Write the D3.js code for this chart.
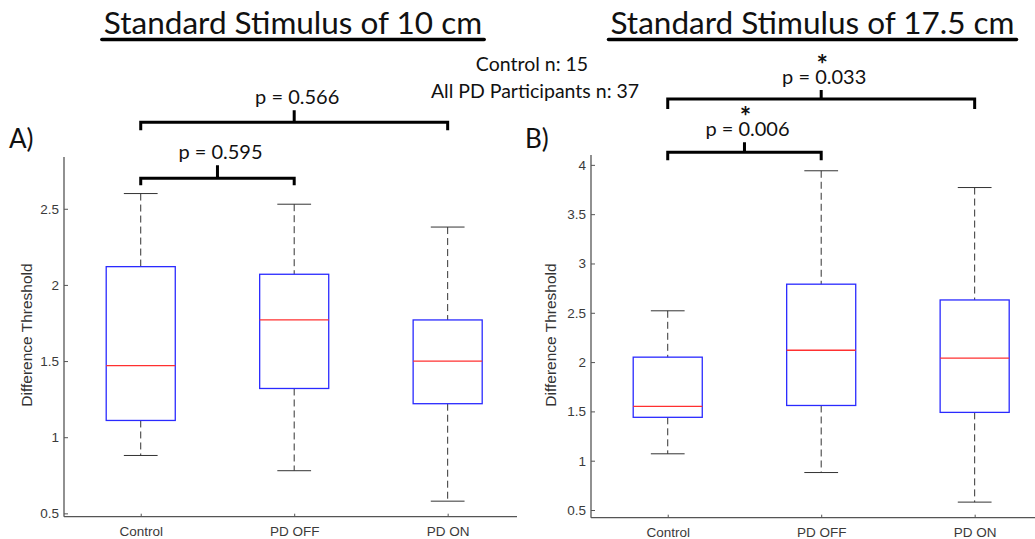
<!DOCTYPE html>
<html>
<head>
<meta charset="utf-8">
<script src="https://cdn.jsdelivr.net/npm/d3@7"></script>
<style>
  body { margin: 0; background: #fff; }
  svg { display: block; }
  .tick text { font-family: "Liberation Sans", Arial, sans-serif; font-size: 13.5px; fill: #3a3a3a; }
  .note { font-family: Lato, "Open Sans", sans-serif; fill: #111; }
</style>
</head>
<body>
<svg id="chart" width="1035" height="539"></svg>
<script>
// categories shared by both panels
const categories = ["Control", "PD OFF", "PD ON"];

// Standard stimulus of 10 cm (panel A)
const lowA    = [0.88, 0.78, 0.58];
const q1A     = [1.11, 1.32, 1.22];
const medianA = [1.47, 1.77, 1.50];
const q3A     = [2.12, 2.07, 1.77];
const highA   = [2.60, 2.53, 2.38];
const ticksA  = [0.5, 1, 1.5, 2, 2.5];

// Standard stimulus of 17.5 cm (panel B)
const lowB    = [1.07, 0.88, 0.58];
const q1B     = [1.44, 1.56, 1.49];
const medianB = [1.55, 2.12, 2.04];
const q3B     = [2.05, 2.79, 2.63];
const highB   = [2.52, 3.94, 3.77];
const ticksB  = [0.5, 1, 1.5, 2, 2.5, 3, 3.5, 4];

// pairwise comparisons
const compA = [
  {from: "Control", to: "PD ON",  p: "p = 0.566", star: false},
  {from: "Control", to: "PD OFF", p: "p = 0.595", star: false}
];
const compB = [
  {from: "Control", to: "PD ON",  p: "p = 0.033", star: true},
  {from: "Control", to: "PD OFF", p: "p = 0.006", star: true}
];

const svg = d3.select("#chart");

function buildRows(low, q1, med, q3, high) {
  return categories.map((c, i) => ({cat: c, low: low[i], q1: q1[i], med: med[i], q3: q3[i], high: high[i]}));
}

function drawPanel(opt) {
  const x = d3.scalePoint().domain(categories).range(opt.xRange).padding(0.5);
  const y = d3.scaleLinear().domain(opt.yDomain).range(opt.yRange);
  const step = x.step();
  const g = svg.append("g");
  const rows = buildRows(...opt.data);

  // y axis
  const yAxis = g.append("g")
    .attr("transform", `translate(${opt.xRange[0]},0)`)
    .call(d3.axisRight(y).tickValues(opt.ticks).tickSize(4).tickSizeOuter(0).tickFormat(d3.format("")));
  yAxis.select(".domain").remove();
  yAxis.selectAll(".tick line").attr("stroke", "#555");
  yAxis.selectAll(".tick text").attr("x", -5).attr("text-anchor", "end");
  g.append("line")
    .attr("x1", opt.xRange[0]).attr("x2", opt.xRange[0])
    .attr("y1", opt.yRange[0]).attr("y2", opt.yRange[1])
    .attr("stroke", "#555").attr("stroke-width", 1.3);

  // x axis
  const xAxis = g.append("g")
    .attr("transform", `translate(0,${opt.yRange[0]})`)
    .call(d3.axisTop(x).tickSize(3).tickSizeOuter(0));
  xAxis.select(".domain").remove();
  xAxis.selectAll(".tick line").attr("stroke", "#555");
  xAxis.selectAll(".tick text").attr("y", 19.5).attr("dy", "0");
  g.append("line")
    .attr("x1", opt.xRange[0]).attr("x2", opt.xEnd)
    .attr("y1", opt.yRange[0]).attr("y2", opt.yRange[0])
    .attr("stroke", "#555").attr("stroke-width", 1.3);

  // y label
  g.append("text")
    .attr("transform", `translate(${opt.labelX},335) rotate(-90)`)
    .attr("text-anchor", "middle")
    .attr("font-family", "Liberation Sans, Arial, sans-serif")
    .attr("font-size", 15.5)
    .attr("fill", "#333")
    .text("Difference Threshold");

  const boxes = g.selectAll(".box").data(rows).enter().append("g");
  const bw = step * 0.225, cw = step * 0.11;

  // whiskers
  boxes.append("line")
    .attr("x1", d => x(d.cat)).attr("x2", d => x(d.cat))
    .attr("y1", d => y(d.high)).attr("y2", d => y(d.q3))
    .attr("stroke", "#333").attr("stroke-dasharray", "7,4");
  boxes.append("line")
    .attr("x1", d => x(d.cat)).attr("x2", d => x(d.cat))
    .attr("y1", d => y(d.q1)).attr("y2", d => y(d.low))
    .attr("stroke", "#333").attr("stroke-dasharray", "7,4");
  boxes.append("line")
    .attr("x1", d => x(d.cat) - cw).attr("x2", d => x(d.cat) + cw)
    .attr("y1", d => y(d.high)).attr("y2", d => y(d.high))
    .attr("stroke", "#333");
  boxes.append("line")
    .attr("x1", d => x(d.cat) - cw).attr("x2", d => x(d.cat) + cw)
    .attr("y1", d => y(d.low)).attr("y2", d => y(d.low))
    .attr("stroke", "#333");

  // box and median
  boxes.append("rect")
    .attr("x", d => x(d.cat) - bw).attr("width", bw * 2)
    .attr("y", d => y(d.q3)).attr("height", d => y(d.q1) - y(d.q3))
    .attr("fill", "none").attr("stroke", "#2a2aff").attr("stroke-width", 1.3);
  boxes.append("line")
    .attr("x1", d => x(d.cat) - bw).attr("x2", d => x(d.cat) + bw)
    .attr("y1", d => y(d.med)).attr("y2", d => y(d.med))
    .attr("stroke", "#ff3030").attr("stroke-width", 1.3);

  // comparison brackets
  opt.comps.forEach((c, i) => {
    const b = opt.brackets[i];
    const x1 = x(c.from), x2 = x(c.to), xm = (x1 + x2) / 2;
    g.append("path")
      .attr("d", `M${x1},${b.y + b.drop}V${b.y}H${x2}V${b.y + b.drop}M${xm},${b.y}V${b.y - b.tick}`)
      .attr("fill", "none").attr("stroke", "#000").attr("stroke-width", 3);
    g.append("text").attr("class", "note")
      .attr("x", xm + 3).attr("y", b.y - b.tick - 6)
      .attr("text-anchor", "middle").attr("font-size", 20)
      .text(c.p);
    if (c.star) {
      g.append("text").attr("class", "note")
        .attr("x", xm + 1).attr("y", b.y - b.tick - 6 - 10)
        .attr("text-anchor", "middle").attr("font-size", 27).attr("font-weight", "bold")
        .text("*");
    }
  });

  // title
  const t = g.append("text").attr("class", "note")
    .attr("x", opt.titleX).attr("y", 34)
    .attr("text-anchor", "middle").attr("font-size", 31.5)
    .text(opt.title);
  const tw = t.node().getComputedTextLength();
  g.append("line")
    .attr("x1", opt.titleX - tw / 2 - 2).attr("x2", opt.titleX + tw / 2 + 2)
    .attr("y1", 39.5).attr("y2", 39.5)
    .attr("stroke", "#000").attr("stroke-width", 3.5).attr("stroke-linecap", "round");

  // panel letter
  g.append("text").attr("class", "note")
    .attr("x", opt.letterX).attr("y", 148)
    .attr("font-size", 26)
    .text(opt.letter);
}

drawPanel({
  data: [lowA, q1A, medianA, q3A, highA],
  ticks: ticksA,
  xRange: [64, 524.4], xEnd: 517,
  yDomain: [0.478, 2.84], yRange: [516.7, 157],
  labelX: 31.5,
  comps: compA,
  brackets: [{y: 122.3, drop: 8, tick: 12}, {y: 178.3, drop: 7, tick: 13}],
  title: "Standard Stimulus of 10 cm", titleX: 293,
  letter: "A)", letterX: 9
});

drawPanel({
  data: [lowB, q1B, medianB, q3B, highB],
  ticks: ticksB,
  xRange: [591, 1051.4], xEnd: 1035,
  yDomain: [0.422, 4.1], yRange: [517.7, 155],
  labelX: 556,
  comps: compB,
  brackets: [{y: 99, drop: 10, tick: 9}, {y: 152.3, drop: 8, tick: 10}],
  title: "Standard Stimulus of 17.5 cm", titleX: 812.5,
  letter: "B)", letterX: 525
});

// sample sizes
svg.append("text").attr("class", "note")
  .attr("x", 532).attr("y", 71).attr("text-anchor", "middle").attr("font-size", 19.5)
  .text("Control n: 15");
svg.append("text").attr("class", "note")
  .attr("x", 535).attr("y", 98).attr("text-anchor", "middle").attr("font-size", 19.5)
  .text("All PD Participants n: 37");
</script>
</body>
</html>
